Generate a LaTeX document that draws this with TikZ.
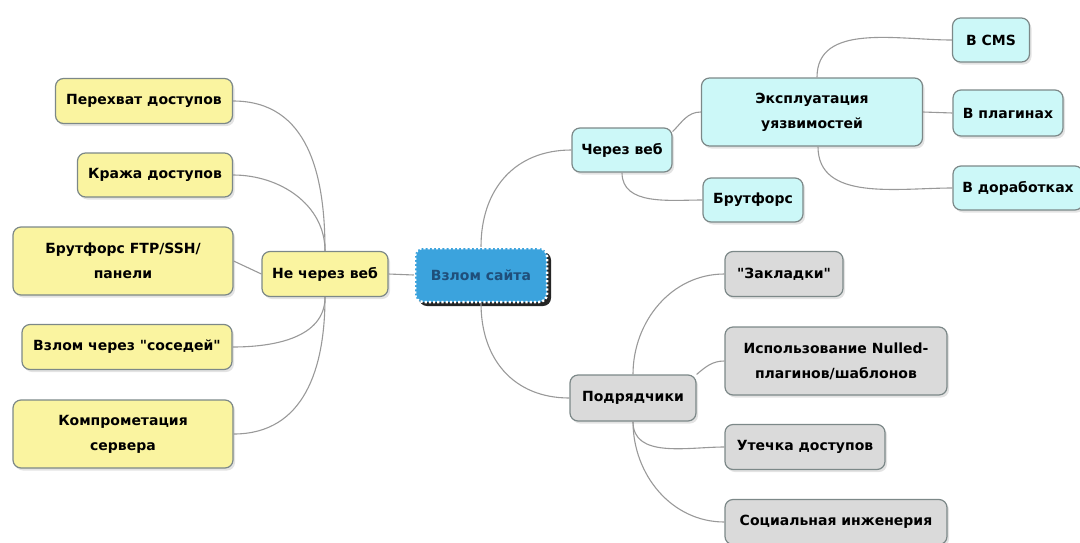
\documentclass[tikz,border=0pt]{standalone}
\usepackage{fontspec}
\setmainfont{DejaVu Sans}
\usetikzlibrary{shadows}
\definecolor{NonWeb}{HTML}{FAF4A0}
\definecolor{Web}{HTML}{CCF8F8}
\definecolor{Contr}{HTML}{DADADA}
\definecolor{RootFill}{HTML}{3BA3DD}
\definecolor{RootText}{HTML}{1F4E7A}
\definecolor{Edge}{HTML}{999999}
\definecolor{Border}{HTML}{7C8888}

\tikzset{
  idea/.style={draw=Border, line width=1.2pt, rounded corners=8pt, align=center,
    inner sep=0pt, font=\bfseries\fontsize{14}{25}\selectfont,
    drop shadow={shadow xshift=2pt, shadow yshift=-2.5pt, opacity=0.22}},
  size/.style 2 args={minimum width=#1, minimum height=#2},
  link/.style={draw=Edge, line width=1.1pt},
}

\begin{document}
\begin{tikzpicture}[x=1pt,y=-1pt]
  \useasboundingbox (0,0) rectangle (1080,542);

  % root
  \node[idea, size={132pt}{54pt}, fill=RootFill, draw=white, line width=2.5pt,
        dash pattern=on 2.2pt off 2pt, text=RootText,
        drop shadow={shadow xshift=4pt, shadow yshift=-4pt, opacity=0.85, fill=black}]
        (root) at (481,275) {Взлом сайта};

  % left branch
  \node[idea, size={126pt}{45pt}, fill=NonWeb] (nonweb) at (325,274) {Не через веб};
  \node[idea, size={177pt}{45pt}, fill=NonWeb] (intercept) at (144,101) {Перехват доступов};
  \node[idea, size={155pt}{44pt}, fill=NonWeb] (theft) at (155,175) {Кража доступов};
  \node[idea, size={220pt}{68pt}, fill=NonWeb] (bruteftp) at (123,261) {Брутфорс FTP/SSH/\\панели};
  \node[idea, size={210pt}{45pt}, fill=NonWeb] (neighbors) at (127,347) {Взлом через \textquotedbl соседей\textquotedbl};
  \node[idea, size={220pt}{68pt}, fill=NonWeb] (server) at (123,434) {Компрометация\\сервера};

  % web branch
  \node[idea, size={100pt}{44pt}, fill=Web] (web) at (622,150) {Через веб};
  \node[idea, size={221pt}{68pt}, fill=Web] (exploit) at (812,112) {Эксплуатация\\уязвимостей};
  \node[idea, size={100pt}{44pt}, fill=Web] (brute) at (753,200) {Брутфорс};
  \node[idea, size={77pt}{44pt}, fill=Web] (cms) at (991,40) {В CMS};
  \node[idea, size={110pt}{46pt}, fill=Web] (plugins) at (1008,113) {В плагинах};
  \node[idea, size={130pt}{44pt}, fill=Web] (custom) at (1018,188) {В доработках};

  % contractors branch
  \node[idea, size={126pt}{46pt}, fill=Contr] (contr) at (633,398) {Подрядчики};
  \node[idea, size={118pt}{45pt}, fill=Contr] (backdoor) at (784,274) {\textquotedbl Закладки\textquotedbl};
  \node[idea, size={222pt}{68pt}, fill=Contr] (nulled) at (836,361) {Использование Nulled-\\плагинов/шаблонов};
  \node[idea, size={160pt}{45pt}, fill=Contr] (leak) at (805,447) {Утечка доступов};
  \node[idea, size={222pt}{45pt}, fill=Contr] (social) at (836,522) {Социальная инженерия};

  % connectors
  \draw[link] (root.west) -- (nonweb.east);
  \draw[link] (root.north) to[out=90,in=180,looseness=1.1] (web.west);
  \draw[link] (root.south) to[out=-90,in=180,looseness=1.1] (contr.west);

  \draw[link] (nonweb.north) to[out=90,in=0,looseness=1.1] (intercept.east);
  \draw[link] (nonweb.north) to[out=90,in=0] (theft.east);
  \draw[link] (nonweb.west) -- (bruteftp.east);
  \draw[link] (nonweb.south) to[out=-90,in=0] (neighbors.east);
  \draw[link] (nonweb.south) to[out=-90,in=0,looseness=1.1] (server.east);

  \draw[link] (web.20) to[out=45,in=180] (exploit.west);
  \draw[link] (web.south) to[out=-90,in=180] (brute.west);
  \draw[link] ([xshift=5pt]exploit.north) to[out=90,in=180] (cms.west);
  \draw[link] (exploit.east) -- (plugins.west);
  \draw[link] ([xshift=6pt]exploit.south) to[out=-90,in=180] (custom.west);

  \draw[link] (contr.north) to[out=90,in=180] (backdoor.west);
  \draw[link] (contr.north east) to[out=40,in=180] (nulled.west);
  \draw[link] (contr.south) to[out=-90,in=180] (leak.west);
  \draw[link] (contr.south) to[out=-90,in=180] (social.west);
\end{tikzpicture}
\end{document}
